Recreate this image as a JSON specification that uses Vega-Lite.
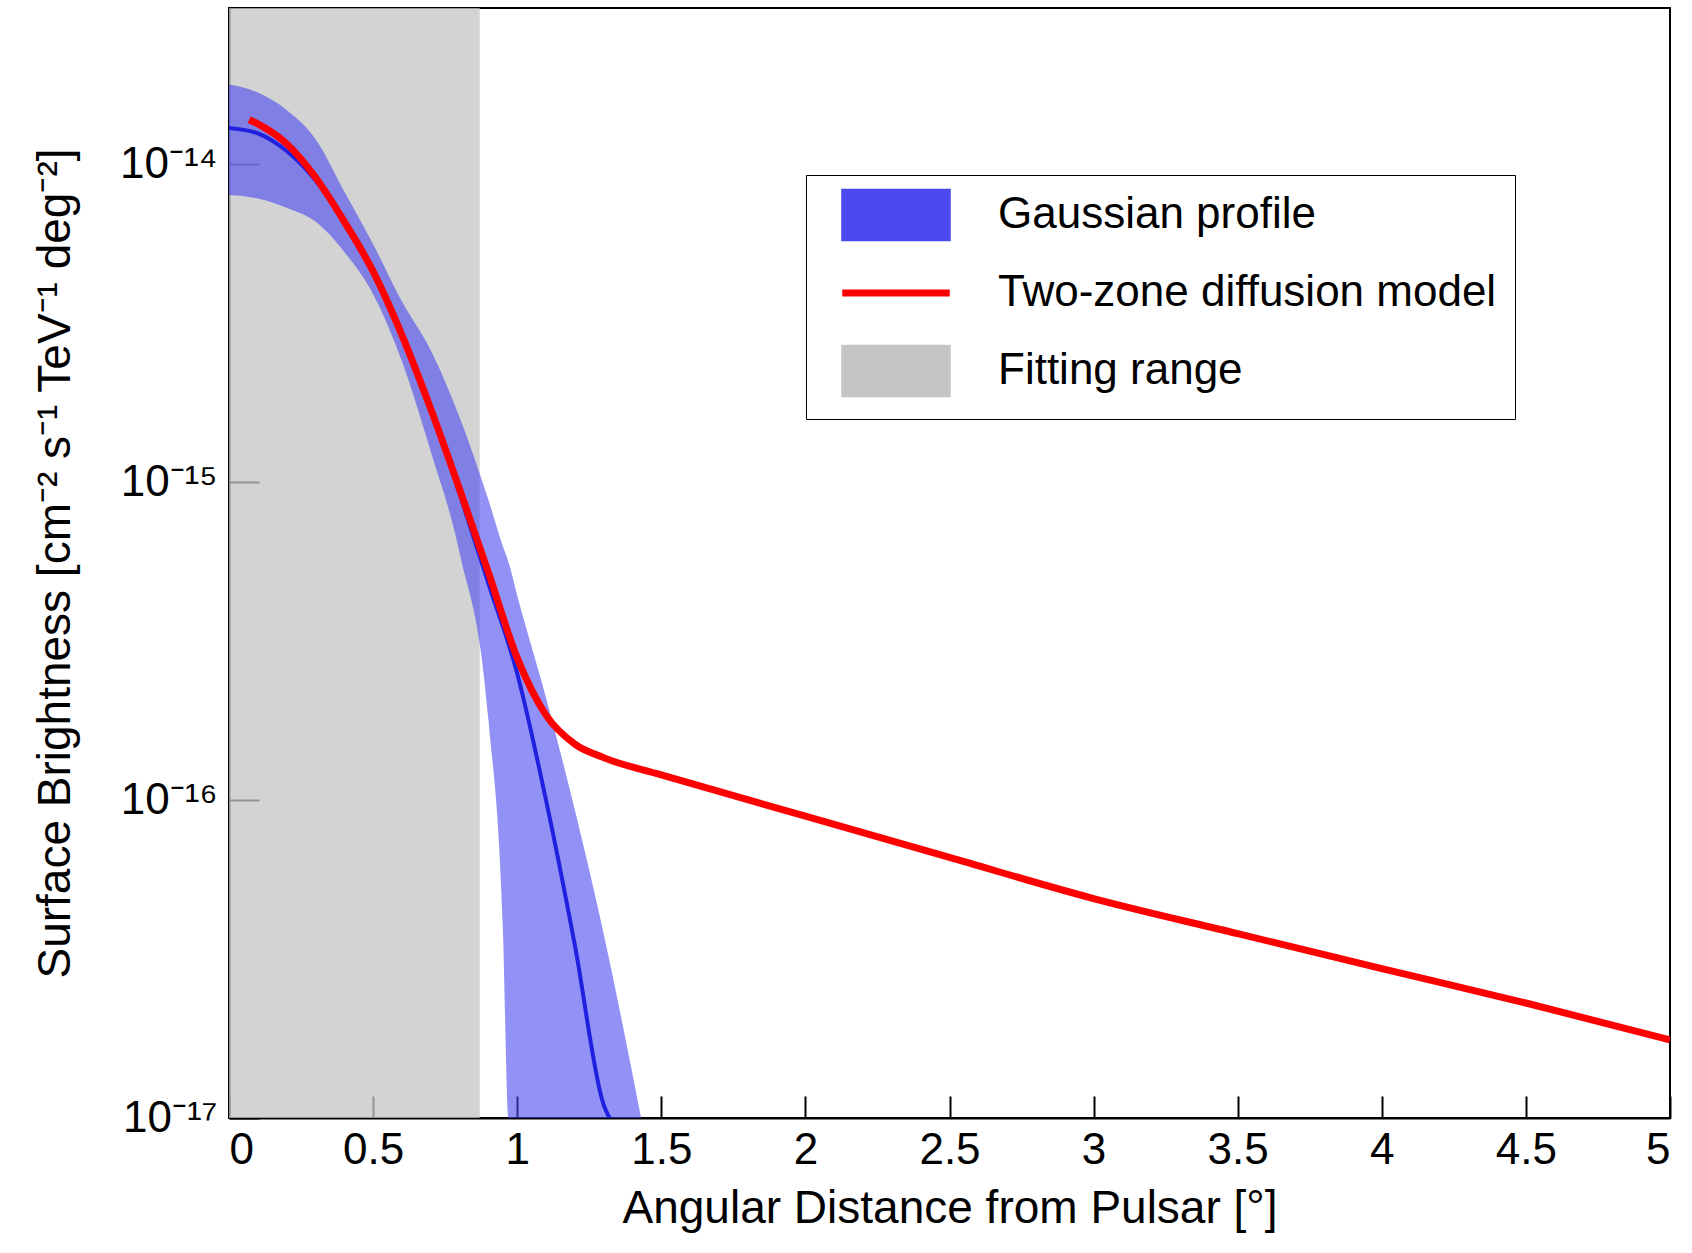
{
  "$schema": "https://vega.github.io/schema/vega-lite/v6.json",
  "width": 1441,
  "height": 1110,
  "autosize": {"type": "none"},
  "padding": {"left": 229, "top": 8, "right": 22, "bottom": 135},
  "background": "white",
  "config": {
    "font": "Liberation Sans",
    "view": {"stroke": "black", "strokeWidth": 2},
    "axis": {"grid": false, "domainColor": "black", "domainWidth": 2, "tickColor": "black", "tickWidth": 2, "labelColor": "black", "titleColor": "black", "labelFontSize": 44, "titleFontSize": 46, "titleFontWeight": "normal"}
  },
  "datasets": {
    "gauss": [
      {"x": 0, "y": 1.3e-14}, {"x": 0.1, "y": 1.25e-14}, {"x": 0.2, "y": 1.1e-14},
      {"x": 0.3, "y": 8.9e-15}, {"x": 0.4, "y": 6.6e-15}, {"x": 0.5, "y": 4.6e-15},
      {"x": 0.6, "y": 2.9e-15}, {"x": 0.7, "y": 1.7e-15}, {"x": 0.8, "y": 9.2e-16},
      {"x": 0.9, "y": 4.8e-16}, {"x": 1.0, "y": 2.5e-16}, {"x": 1.1, "y": 1.0e-16},
      {"x": 1.2, "y": 3.5e-17}, {"x": 1.3, "y": 1.1e-17}, {"x": 1.32, "y": 1e-17}
    ],
    "band": [
      {"x": 0, "lo": 8e-15, "hi": 1.78e-14}, {"x": 0.1, "lo": 7.8e-15, "hi": 1.68e-14},
      {"x": 0.2, "lo": 7.3e-15, "hi": 1.48e-14}, {"x": 0.3, "lo": 6.6e-15, "hi": 1.2e-14},
      {"x": 0.4, "lo": 5.3e-15, "hi": 8.2e-15}, {"x": 0.5, "lo": 3.9e-15, "hi": 5.6e-15},
      {"x": 0.6, "lo": 2.4e-15, "hi": 3.7e-15}, {"x": 0.7, "lo": 1.25e-15, "hi": 2.6e-15},
      {"x": 0.8, "lo": 6e-16, "hi": 1.6e-15}, {"x": 0.9, "lo": 1.8e-16, "hi": 8.8e-16},
      {"x": 0.95, "lo": 4e-17, "hi": 6.3e-16}, {"x": 0.97, "lo": 1e-17, "hi": 5.6e-16},
      {"x": 1.0, "lo": 1e-17, "hi": 4.4e-16}, {"x": 1.1, "lo": 1e-17, "hi": 2.1e-16},
      {"x": 1.2, "lo": 1e-17, "hi": 9.3e-17}, {"x": 1.3, "lo": 1e-17, "hi": 3.8e-17},
      {"x": 1.43, "lo": 1e-17, "hi": 1e-17}
    ],
    "model": [
      {"x": 0.07, "y": 1.38e-14}, {"x": 0.1, "y": 1.34e-14}, {"x": 0.2, "y": 1.16e-14},
      {"x": 0.3, "y": 9.1e-15}, {"x": 0.4, "y": 6.6e-15}, {"x": 0.5, "y": 4.6e-15},
      {"x": 0.6, "y": 2.9e-15}, {"x": 0.7, "y": 1.7e-15}, {"x": 0.8, "y": 9.5e-16},
      {"x": 0.9, "y": 5.2e-16}, {"x": 1.0, "y": 2.8e-16}, {"x": 1.1, "y": 1.85e-16},
      {"x": 1.2, "y": 1.5e-16}, {"x": 1.3, "y": 1.36e-16}, {"x": 1.5, "y": 1.2e-16},
      {"x": 2.0, "y": 8.9e-17}, {"x": 2.5, "y": 6.6e-17}, {"x": 3.0, "y": 4.9e-17},
      {"x": 3.5, "y": 3.8e-17}, {"x": 4.0, "y": 2.95e-17}, {"x": 4.5, "y": 2.3e-17},
      {"x": 5.0, "y": 1.76e-17}
    ],
    "range": [{"x": 0, "x2": 0.87, "series": "Fitting range"}]
  },
  "layer": [
    {
      "data": {"name": "range"},
      "mark": {"type": "rect", "opacity": 0.75},
      "encoding": {
        "x": {"field": "x", "type": "quantitative"},
        "x2": {"field": "x2"},
        "color": {"datum": "Fitting range"}
      }
    },
    {
      "data": {"name": "band"},
      "mark": {"type": "area", "opacity": 0.6, "clip": true, "interpolate": "monotone"},
      "encoding": {
        "x": {"field": "x", "type": "quantitative"},
        "y": {"field": "lo", "type": "quantitative"},
        "y2": {"field": "hi"},
        "color": {"datum": "Gaussian profile"}
      }
    },
    {
      "data": {"name": "gauss"},
      "mark": {"type": "line", "color": "#2020e0", "strokeWidth": 4, "clip": true, "interpolate": "monotone"},
      "encoding": {
        "x": {"field": "x", "type": "quantitative"},
        "y": {"field": "y", "type": "quantitative"}
      }
    },
    {
      "data": {"name": "model"},
      "mark": {"type": "line", "strokeWidth": 7, "clip": true, "interpolate": "monotone"},
      "encoding": {
        "x": {
          "field": "x", "type": "quantitative",
          "scale": {"domain": [0, 5], "nice": false},
          "axis": {"values": [0, 0.5, 1, 1.5, 2, 2.5, 3, 3.5, 4, 4.5, 5], "format": "~g", "tickSize": -22, "labelPadding": 32, "title": "Angular Distance from Pulsar [°]", "titleAnchor": "middle", "titlePadding": 14}
        },
        "y": {
          "field": "y", "type": "quantitative",
          "scale": {"type": "log", "domain": [1e-17, 3.1e-14], "nice": false},
          "axis": {
            "values": [1e-17, 1e-16, 1e-15, 1e-14],
            "labelExpr": "datum.value < 5e-17 ? '10⁻¹⁷' : datum.value < 5e-16 ? '10⁻¹⁶' : datum.value < 5e-15 ? '10⁻¹⁵' : '10⁻¹⁴'",
            "tickSize": -30, "labelPadding": 42,
            "title": "Surface Brightness [cm⁻² s⁻¹ TeV⁻¹ deg⁻²]", "titleAnchor": "middle", "titlePadding": 40
          }
        },
        "color": {
          "datum": "Two-zone diffusion model",
          "scale": {
            "domain": ["Gaussian profile", "Two-zone diffusion model", "Fitting range"],
            "range": ["#4a4af0", "#ff0000", "#c4c4c4"]
          },
          "legend": {
            "title": null, "orient": "none", "legendX": 577, "legendY": 167,
            "strokeColor": "black", "padding": 18, "fillColor": "white",
            "labelFontSize": 44, "labelColor": "black", "labelLimit": 800, "symbolSize": 4000, "rowPadding": 26, "labelOffset": 80, "symbolOffset": 50,
            "symbolStrokeColor": "black", "symbolStrokeWidth": 2, "symbolOpacity": 1,
            "encode": {"symbols": {"update": {"shape": {"signal": "datum.label === 'Two-zone diffusion model' ? 'M-1.7,0H1.7' : 'M-1.7,-0.8H1.7V0.8H-1.7Z'"}, "strokeWidth": {"signal": "datum.label === 'Two-zone diffusion model' ? 7 : 2"}, "stroke": {"signal": "datum.label === 'Two-zone diffusion model' ? '#ff0000' : 'black'"}}}}
          }
        }
      }
    }
  ]
}
